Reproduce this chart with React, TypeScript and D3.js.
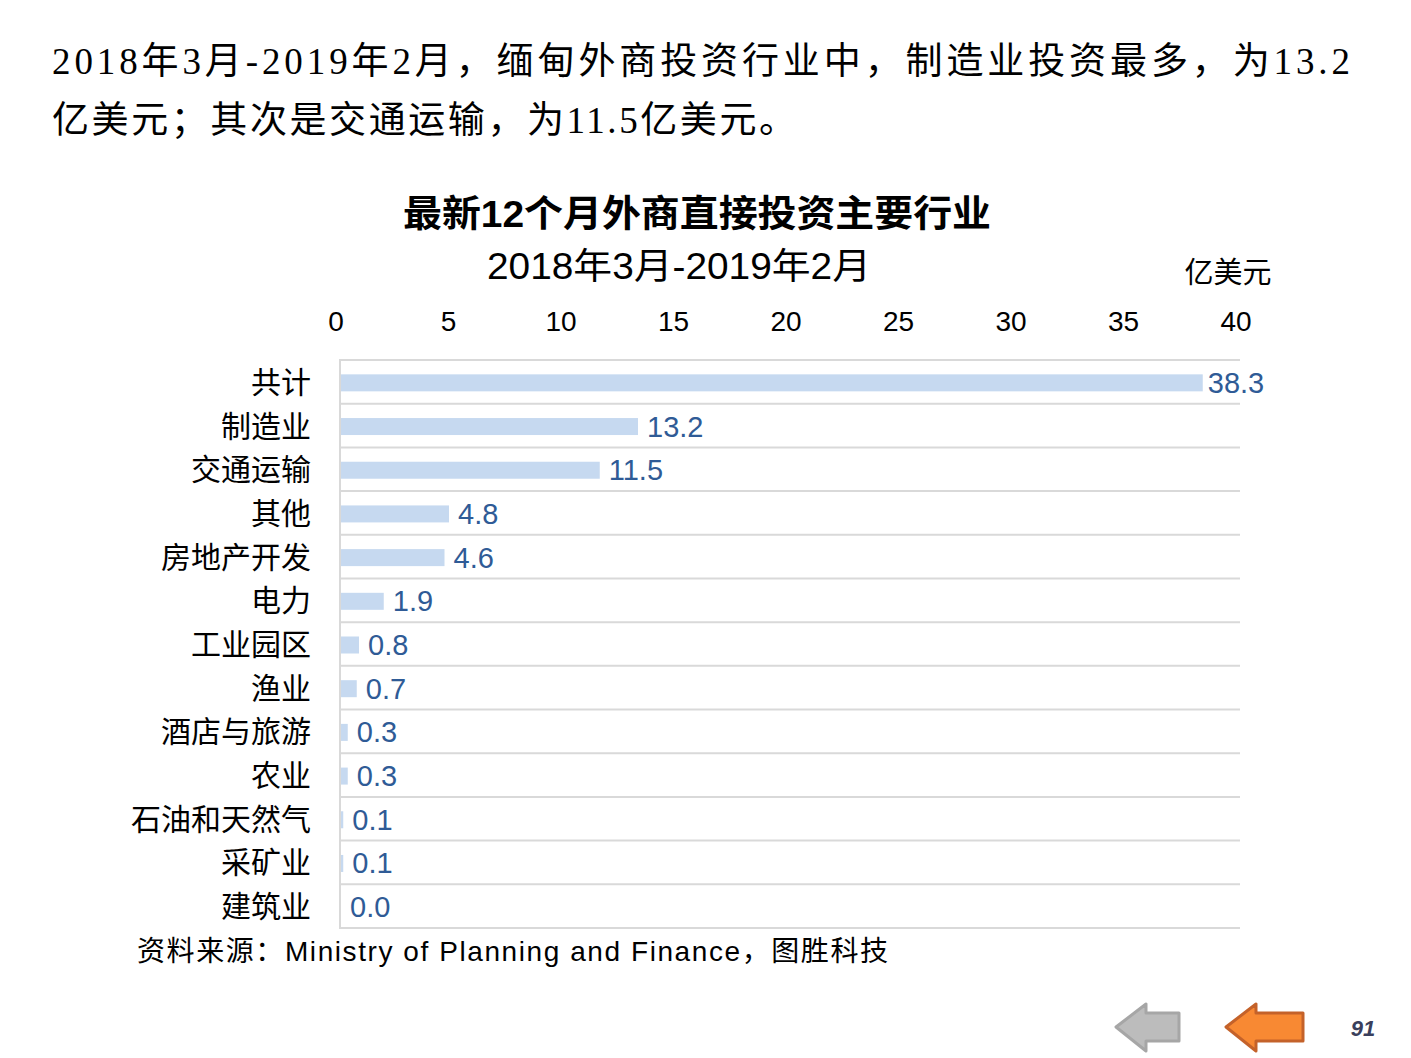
import React, { useRef, useEffect } from 'react';
import * as d3 from 'd3';

const categories = ['共计', '制造业', '交通运输', '其他', '房地产开发', '电力', '工业园区', '渔业', '酒店与旅游', '农业', '石油和天然气', '采矿业', '建筑业'];
const values = [38.3, 13.2, 11.5, 4.8, 4.6, 1.9, 0.8, 0.7, 0.3, 0.3, 0.1, 0.1, 0.0];
const xTicks = [0, 5, 10, 15, 20, 25, 30, 35, 40];

const headerLines = [
    '2018年3月-2019年2月，缅甸外商投资行业中，制造业投资最多，为13.2',
    '亿美元；其次是交通运输，为11.5亿美元。',
];
const chartTitle = '最新12个月外商直接投资主要行业';
const chartSubtitle = '2018年3月-2019年2月';
const unitLabel = '亿美元';
const sourceText = '资料来源：Ministry of Planning and Finance，图胜科技';
const pageNumber = '91';

const W = 1411;
const H = 1058;
const SANS = 'Arial, "Liberation Sans", "Noto Sans CJK SC", sans-serif';
const SERIF = '"Liberation Serif", "Noto Sans CJK SC", serif';

export default function App() {
    const svgRef = useRef<SVGSVGElement>(null);

    useEffect(() => {
        if (!svgRef.current) return;
        const svg = d3.select(svgRef.current);
        svg.selectAll('*').remove();

        svg.append('rect').attr('width', W).attr('height', H).attr('fill', '#fff');

        // header paragraph
        svg.append('text')
            .attr('x', 52).attr('y', 74)
            .attr('font-family', SERIF).attr('font-size', 37)
            .attr('textLength', 1298).attr('lengthAdjust', 'spacing')
            .attr('fill', '#000')
            .text(headerLines[0]);
        svg.append('text')
            .attr('x', 52).attr('y', 133)
            .attr('font-family', SERIF).attr('font-size', 37)
            .attr('textLength', 744).attr('lengthAdjust', 'spacing')
            .attr('fill', '#000')
            .text(headerLines[1]);

        // titles
        svg.append('text')
            .attr('x', 403).attr('y', 227)
            .attr('font-family', SANS).attr('font-size', 37).attr('font-weight', 'bold')
            .attr('textLength', 588).attr('lengthAdjust', 'spacingAndGlyphs')
            .text(chartTitle);
        svg.append('text')
            .attr('x', 487).attr('y', 279)
            .attr('font-family', SANS).attr('font-size', 36)
            .attr('textLength', 384).attr('lengthAdjust', 'spacingAndGlyphs')
            .text(chartSubtitle);
        svg.append('text')
            .attr('x', 1228).attr('y', 283)
            .attr('text-anchor', 'middle')
            .attr('font-family', SERIF).attr('font-size', 29)
            .text(unitLabel);

        const x = d3.scaleLinear().domain([0, 40]).range([340, 1240]);
        const y = d3.scaleBand().domain(categories).range([360, 928]).paddingInner(0).paddingOuter(0);
        const barH = 17;

        // tick labels (top)
        svg.append('g')
            .selectAll('text')
            .data(xTicks)
            .join('text')
            .attr('x', d => x(d) - 4)
            .attr('y', 331)
            .attr('text-anchor', 'middle')
            .attr('font-family', SANS).attr('font-size', 28)
            .attr('fill', '#000')
            .text(d => d);

        // horizontal grid lines (band boundaries)
        const bounds = categories.map(c => y(c) as number).concat([928]);
        svg.append('g')
            .selectAll('line')
            .data(bounds)
            .join('line')
            .attr('x1', 340).attr('x2', 1240)
            .attr('y1', d => d).attr('y2', d => d)
            .attr('stroke', '#d9d9d9').attr('stroke-width', 2);

        // vertical axis line
        svg.append('line')
            .attr('x1', 340).attr('x2', 340)
            .attr('y1', 359).attr('y2', 929)
            .attr('stroke', '#d9d9d9').attr('stroke-width', 2);

        // bars
        svg.append('g')
            .selectAll('rect')
            .data(values)
            .join('rect')
            .attr('x', x(0) + 1)
            .attr('y', (d, i) => (y(categories[i]) as number) + y.bandwidth() / 2 - barH / 2 + 1)
            .attr('width', d => Math.max(0, x(d) - x(0)))
            .attr('height', barH)
            .attr('fill', '#c6d9f0');

        // value labels
        svg.append('g')
            .selectAll('text')
            .data(values)
            .join('text')
            .attr('x', (d, i) => x(d) + (i === 0 ? 6 : 10))
            .attr('y', (d, i) => (y(categories[i]) as number) + y.bandwidth() / 2 + 11)
            .attr('font-family', SANS).attr('font-size', 29)
            .attr('fill', '#2f5b96')
            .text(d => d.toFixed(1));

        // category labels
        svg.append('g')
            .selectAll('text')
            .data(categories)
            .join('text')
            .attr('x', 311)
            .attr('y', d => (y(d) as number) + y.bandwidth() / 2 + 11)
            .attr('text-anchor', 'end')
            .attr('font-family', SERIF).attr('font-size', 30)
            .attr('fill', '#000')
            .text(d => d);

        // source
        svg.append('text')
            .attr('x', 137).attr('y', 961)
            .attr('font-family', SANS).attr('font-size', 28)
            .attr('textLength', 751).attr('lengthAdjust', 'spacing')
            .attr('fill', '#000')
            .text(sourceText);

        // navigation arrows
        const arrow = (x0: number, len: number, fill: string, stroke: string) => {
            const p = d3.path();
            p.moveTo(x0, 1027);
            p.lineTo(x0 + 30, 1004);
            p.lineTo(x0 + 30, 1013);
            p.lineTo(x0 + len, 1013);
            p.lineTo(x0 + len, 1041);
            p.lineTo(x0 + 30, 1041);
            p.lineTo(x0 + 30, 1051);
            p.closePath();
            svg.append('path')
                .attr('d', p.toString())
                .attr('fill', fill)
                .attr('stroke', stroke)
                .attr('stroke-width', 3)
                .attr('stroke-linejoin', 'round');
        };
        arrow(1116, 63, '#bcbcbc', '#a6a6a6');
        arrow(1226, 77, '#f88933', '#c4622a');

        svg.append('text')
            .attr('x', 1363).attr('y', 1036)
            .attr('text-anchor', 'middle')
            .attr('font-family', SANS).attr('font-size', 22)
            .attr('font-weight', 'bold').attr('font-style', 'italic')
            .attr('fill', '#3a3f5c')
            .text(pageNumber);
    }, []);

    return (
        <svg
            ref={svgRef}
            width={W}
            height={H}
            style={{ position: 'absolute', left: 0, top: 0, display: 'block' }}
        />
    );
}
